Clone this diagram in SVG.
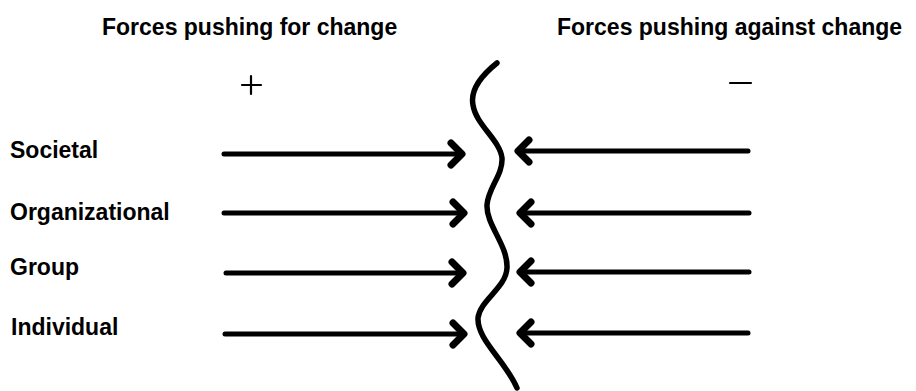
<svg xmlns="http://www.w3.org/2000/svg" width="916" height="391" viewBox="0 0 916 391">
  <style>
    .title { font-family: "Liberation Sans", Arial, sans-serif; font-weight: bold; font-size: 23px; fill: #000; }
    .label { font-family: "Liberation Sans", Arial, sans-serif; font-weight: bold; font-size: 23px; fill: #000; }
    .shaft { stroke: #000; stroke-width: 5; stroke-linecap: round; fill: none; marker-end: url(#head); }
    .sign { stroke: #000; stroke-width: 2.2; stroke-linecap: round; fill: none; }
    .barrier { stroke: #000; stroke-width: 5.5; stroke-linecap: round; stroke-linejoin: round; fill: none; }
  </style>
  <defs>
    <marker id="head" viewBox="0 0 22 30" markerWidth="22" markerHeight="30" refX="16" refY="15" orient="auto" markerUnits="userSpaceOnUse">
      <path d="M5,4 L16,15 L5,26" stroke="#000" stroke-width="7" stroke-linecap="round" stroke-linejoin="round" fill="none"/>
    </marker>
  </defs>
  <rect width="916" height="391" fill="#fff"/>

  <g id="title-for">
    <text class="title" x="102" y="35">Forces pushing for change</text>
  </g>
  <g id="title-against">
    <text class="title" x="557" y="35">Forces pushing against change</text>
  </g>

  <g id="plus-sign">
    <path class="sign" d="M242,85 L261,85 M251,76 L251,94"/>
  </g>
  <g id="minus-sign">
    <path class="sign" d="M730,83 L751,83" stroke-width="3.2"/>
  </g>

  <g id="label-societal"><text class="label" x="10" y="158">Societal</text></g>
  <g id="label-organizational"><text class="label" x="10" y="220">Organizational</text></g>
  <g id="label-group"><text class="label" x="10" y="275">Group</text></g>
  <g id="label-individual"><text class="label" x="11" y="335">Individual</text></g>

  <g id="barrier">
    <path class="barrier" d="M497,63 C482,75 470,90 473,105 C476,125 500,140 502,158 C503,175 488,188 487,205 C486,225 508,245 507,268 C506,288 480,300 478,318 C477,340 505,360 517,388"/>
  </g>

  <g id="connectors">
    <line class="shaft" x1="224" y1="154" x2="462" y2="154"/>
    <line class="shaft" x1="224" y1="213" x2="464" y2="213"/>
    <line class="shaft" x1="226" y1="273" x2="463" y2="273"/>
    <line class="shaft" x1="225" y1="334" x2="464" y2="334"/>
    <line class="shaft" x1="748" y1="151" x2="518" y2="151"/>
    <line class="shaft" x1="749" y1="213" x2="520" y2="213"/>
    <line class="shaft" x1="749" y1="272" x2="520" y2="272"/>
    <line class="shaft" x1="748" y1="333" x2="520" y2="333"/>
  </g>
</svg>
